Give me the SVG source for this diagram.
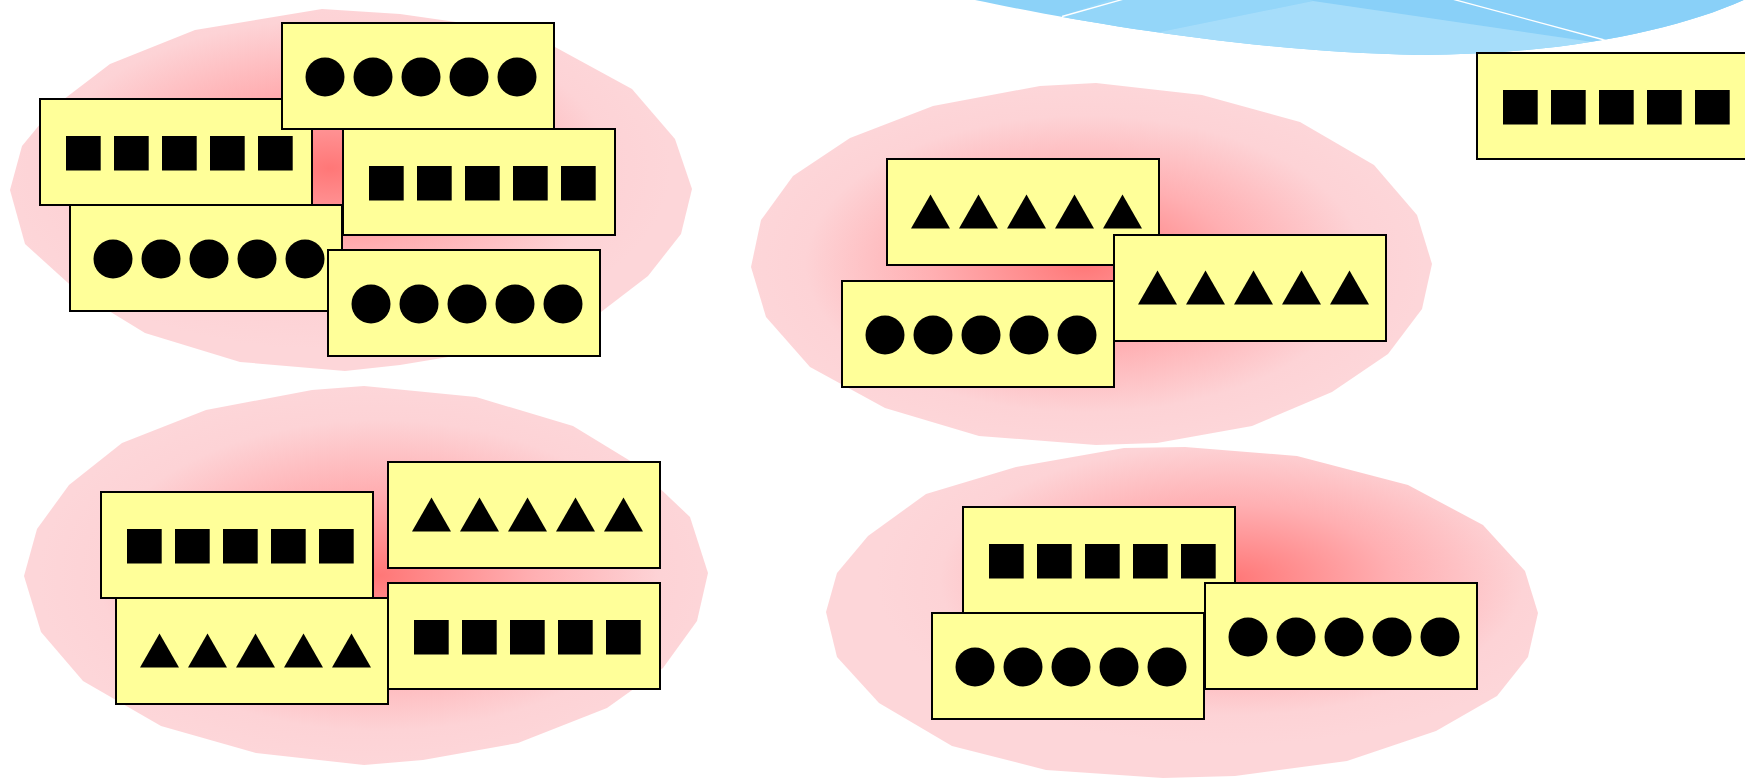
<svg xmlns="http://www.w3.org/2000/svg" xmlns:xlink="http://www.w3.org/1999/xlink" width="1745" height="778" viewBox="0 0 1745 778">
<style>
.box{fill:#FFFF99;stroke:#000;stroke-width:2}
.sh{fill:#000}
.wl{stroke:#fff;stroke-width:1.3;fill:none}
</style>
<defs>
<radialGradient id="pk" cx="0.5" cy="0.5" r="0.5">
<stop offset="0" stop-color="#FF7777"/>
<stop offset="0.45" stop-color="#FFAFB2"/>
<stop offset="0.82" stop-color="#FDD3D6"/>
<stop offset="1" stop-color="#FDD6D9"/>
</radialGradient>
<radialGradient id="pk1" href="#pk" xlink:href="#pk" cx="0.47" cy="0.44"/>
<radialGradient id="pk2" href="#pk" xlink:href="#pk" cx="0.49" cy="0.5"/>
<radialGradient id="pk3" href="#pk" xlink:href="#pk" cx="0.52" cy="0.5"/>
<radialGradient id="pk4" href="#pk" xlink:href="#pk" cx="0.57" cy="0.4"/>
<clipPath id="bluclip"><path d="M975 0 C1080 22,1250 52,1420 55 C1560 55,1680 30,1748 -2 L1748 -10 L975 -10 Z"/></clipPath>
<g id="bsq">
<rect class="box" x="0" y="0" width="272" height="106"/>
<rect class="sh" x="26" y="37" width="34.7" height="34.5"/>
<rect class="sh" x="74" y="37" width="34.7" height="34.5"/>
<rect class="sh" x="122" y="37" width="34.7" height="34.5"/>
<rect class="sh" x="170" y="37" width="34.7" height="34.5"/>
<rect class="sh" x="218" y="37" width="34.7" height="34.5"/>
</g>
<g id="bci">
<rect class="box" x="0" y="0" width="272" height="106"/>
<circle class="sh" cx="43" cy="54" r="19.5"/>
<circle class="sh" cx="91" cy="54" r="19.5"/>
<circle class="sh" cx="139" cy="54" r="19.5"/>
<circle class="sh" cx="187" cy="54" r="19.5"/>
<circle class="sh" cx="235" cy="54" r="19.5"/>
</g>
<g id="btr">
<rect class="box" x="0" y="0" width="272" height="106"/>
<polygon class="sh" points="24,69.5 43.5,35.5 63,69.5"/>
<polygon class="sh" points="72,69.5 91.5,35.5 111,69.5"/>
<polygon class="sh" points="120,69.5 139.5,35.5 159,69.5"/>
<polygon class="sh" points="168,69.5 187.5,35.5 207,69.5"/>
<polygon class="sh" points="216,69.5 235.5,35.5 255,69.5"/>
</g>
</defs>

<g id="sky" clip-path="url(#bluclip)">
<rect x="960" y="-10" width="800" height="90" fill="#8CD2F8"/>
<polygon points="1062,16 1123,-5 1300,-5 1313,1 1150,34 1150,90 1062,90" fill="#94D6F9"/>
<polygon points="1313,1 1620,46 1760,46 1760,-10 1313,-10" fill="#89D0F8"/>
<polygon points="1150,34 1313,1 1620,46 1620,90 1150,90" fill="#A6DDFA"/>
<line class="wl" x1="1062" y1="16.5" x2="1124" y2="-1"/>
<line class="wl" x1="1452" y1="-1" x2="1610" y2="41.5"/>
</g>

<g id="blobs">
<polygon id="blob-tl" fill="url(#pk1)" points="322,9 400,14 470,24 555,47 632,89 675,139 692,189 681,234 648,276 601,312 520,345 400,365 345,371 240,362 145,333 78,292 25,244 10,190 22,146 55,106 110,64 195,30"/>
<polygon id="blob-tr" fill="url(#pk2)" points="1040,86 1096,83 1202,95 1300,122 1374,165 1417,215 1432,264 1422,309 1388,354 1332,392 1252,426 1157,443 1096,445 979,436 885,408 810,367 766,317 751,267 761,220 793,176 850,138 933,106"/>
<polygon id="blob-bl" fill="url(#pk3)" points="312,390 364,386 476,397 573,426 632,462 690,517 708,573 697,621 663,668 607,708 518,743 423,760 364,765 256,753 161,726 83,681 41,632 24,576 37,529 69,485 122,443 206,410"/>
<polygon id="blob-br" fill="url(#pk4)" points="1124,448 1185,447 1297,456 1408,485 1483,525 1525,571 1538,613 1528,657 1497,696 1436,731 1347,761 1235,776 1163,778 1046,770 952,746 879,703 837,657 826,612 837,573 868,536 926,494 1016,467"/>
</g>

<g id="node-tl-squares-a" transform="translate(40,99)"><use href="#bsq" xlink:href="#bsq"/></g>
<g id="node-tl-circles-a" transform="translate(282,23)"><use href="#bci" xlink:href="#bci"/></g>
<g id="node-tl-squares-b" transform="translate(343,129)"><use href="#bsq" xlink:href="#bsq"/></g>
<g id="node-tl-circles-b" transform="translate(70,205)"><use href="#bci" xlink:href="#bci"/></g>
<g id="node-tl-circles-c" transform="translate(328,250)"><use href="#bci" xlink:href="#bci"/></g>

<g id="node-tr-triangles-a" transform="translate(887,159)"><use href="#btr" xlink:href="#btr"/></g>
<g id="node-tr-triangles-b" transform="translate(1114,235)"><use href="#btr" xlink:href="#btr"/></g>
<g id="node-tr-circles" transform="translate(842,281)"><use href="#bci" xlink:href="#bci"/></g>

<g id="node-corner-squares" transform="translate(1477,53)"><use href="#bsq" xlink:href="#bsq"/></g>

<g id="node-bl-squares-a" transform="translate(101,492)"><use href="#bsq" xlink:href="#bsq"/></g>
<g id="node-bl-triangles-a" transform="translate(116,598)"><use href="#btr" xlink:href="#btr"/></g>
<g id="node-bl-triangles-b" transform="translate(388,462)"><use href="#btr" xlink:href="#btr"/></g>
<g id="node-bl-squares-b" transform="translate(388,583)"><use href="#bsq" xlink:href="#bsq"/></g>

<g id="node-br-squares" transform="translate(963,507)"><use href="#bsq" xlink:href="#bsq"/></g>
<g id="node-br-circles-a" transform="translate(932,613)"><use href="#bci" xlink:href="#bci"/></g>
<g id="node-br-circles-b" transform="translate(1205,583)"><use href="#bci" xlink:href="#bci"/></g>
</svg>
